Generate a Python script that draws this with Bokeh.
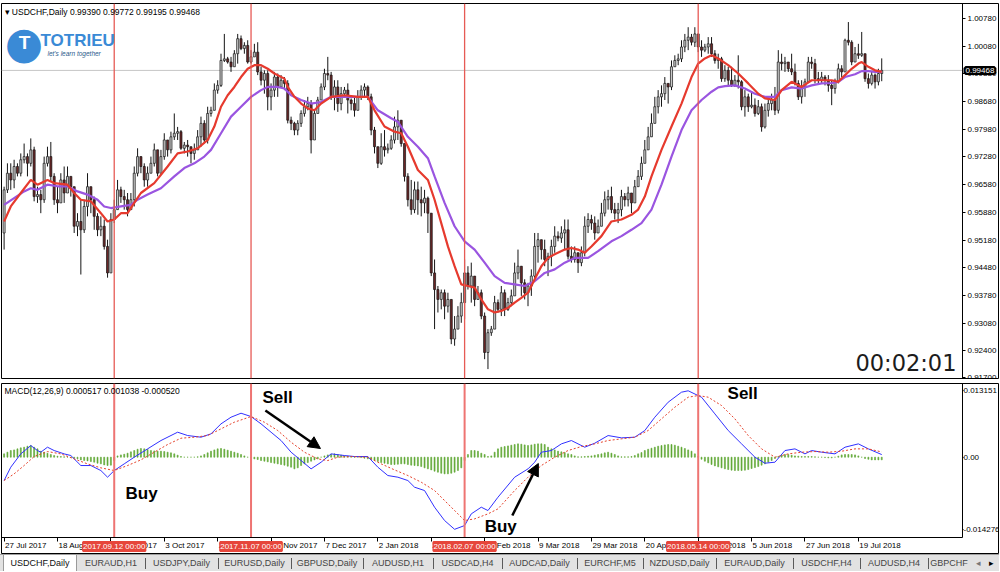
import numpy as np
from bokeh.plotting import figure
from bokeh.models import (ColumnDataSource, FixedTicker, Span, Label, Arrow,
                          NormalHead, Div, Range1d, LinearAxis)
from bokeh.layouts import column
from bokeh.embed import file_html
from bokeh.resources import INLINE

# ---------------- data (USDCHF daily, bar index 0 = 27 Jul 2017) ----------------
first_open = 0.9536
close = [
0.9645, 0.9687, 0.9670, 0.9704, 0.9687, 0.9721, 0.9729, 0.9712, 0.9746, 0.9628,
0.9633, 0.9620, 0.9712, 0.9729, 0.9679, 0.9620, 0.9612, 0.9670, 0.9637, 0.9679,
0.9653, 0.9553, 0.9565, 0.9544, 0.9603, 0.9653, 0.9620, 0.9578, 0.9544, 0.9553,
0.9502, 0.9435, 0.9570, 0.9595, 0.9645, 0.9628, 0.9620, 0.9595, 0.9620, 0.9687,
0.9729, 0.9704, 0.9670, 0.9687, 0.9712, 0.9746, 0.9687, 0.9729, 0.9771, 0.9746,
0.9779, 0.9788, 0.9792, 0.9750, 0.9758, 0.9754, 0.9737, 0.9746, 0.9779, 0.9813,
0.9771, 0.9838, 0.9846, 0.9897, 0.9909, 0.9972, 0.9976, 0.9968, 0.9956, 0.9989,
1.0027, 1.0002, 1.0010, 0.9968, 0.9981, 0.9993, 0.9943, 0.9922, 0.9939, 0.9880,
0.9897, 0.9930, 0.9905, 0.9922, 0.9914, 0.9821, 0.9813, 0.9796, 0.9813, 0.9838,
0.9855, 0.9863, 0.9771, 0.9838, 0.9872, 0.9905, 0.9939, 0.9935, 0.9880, 0.9905,
0.9863, 0.9888, 0.9897, 0.9872, 0.9863, 0.9846, 0.9880, 0.9897, 0.9905, 0.9880,
0.9796, 0.9754, 0.9712, 0.9754, 0.9746, 0.9750, 0.9771, 0.9804, 0.9821, 0.9762,
0.9679, 0.9620, 0.9595, 0.9645, 0.9620, 0.9612, 0.9624, 0.9586, 0.9435, 0.9393,
0.9368, 0.9385, 0.9351, 0.9368, 0.9268, 0.9293, 0.9326, 0.9360, 0.9435, 0.9402,
0.9427, 0.9368, 0.9385, 0.9326, 0.9234, 0.9284, 0.9293, 0.9360, 0.9343, 0.9385,
0.9343, 0.9360, 0.9377, 0.9435, 0.9452, 0.9410, 0.9385, 0.9402, 0.9427, 0.9502,
0.9519, 0.9494, 0.9469, 0.9477, 0.9502, 0.9528, 0.9523, 0.9536, 0.9544, 0.9477,
0.9469, 0.9486, 0.9461, 0.9486, 0.9553, 0.9570, 0.9561, 0.9536, 0.9553, 0.9586,
0.9620, 0.9628, 0.9595, 0.9586, 0.9595, 0.9628, 0.9620, 0.9637, 0.9612, 0.9653,
0.9679, 0.9712, 0.9746, 0.9779, 0.9813, 0.9855, 0.9880, 0.9888, 0.9914, 0.9905,
0.9956, 0.9972, 0.9976, 1.0006, 1.0023, 1.0031, 1.0018, 1.0039, 1.0006, 0.9998,
1.0006, 1.0014, 0.9989, 0.9972, 0.9976, 0.9926, 0.9947, 0.9922, 0.9909, 0.9922,
0.9918, 0.9855, 0.9880, 0.9855, 0.9859, 0.9838, 0.9855, 0.9804, 0.9846, 0.9863,
0.9872, 0.9846, 0.9968, 0.9964, 0.9968, 0.9951, 0.9943, 0.9914, 0.9880, 0.9905,
0.9918, 0.9968, 0.9964, 0.9926, 0.9922, 0.9930, 0.9922, 0.9909, 0.9901, 0.9918,
0.9951, 0.9943, 1.0023, 1.0018, 0.9968, 0.9989, 0.9985, 0.9989, 0.9926, 0.9914,
0.9935, 0.9918, 0.9939, 0.99468,
]
high = [
0.9653, 0.9712, 0.9712, 0.9721, 0.9712, 0.9737, 0.9762, 0.9737, 0.9775, 0.9754,
0.9653, 0.9645, 0.9729, 0.9754, 0.9766, 0.9687, 0.9653, 0.9687, 0.9704, 0.9704,
0.9679, 0.9653, 0.9586, 0.9620, 0.9620, 0.9687, 0.9637, 0.9628, 0.9586, 0.9578,
0.9570, 0.9519, 0.9586, 0.9620, 0.9670, 0.9653, 0.9645, 0.9637, 0.9637, 0.9704,
0.9750, 0.9721, 0.9712, 0.9704, 0.9729, 0.9762, 0.9712, 0.9746, 0.9788, 0.9762,
0.9792, 0.9838, 0.9804, 0.9796, 0.9766, 0.9771, 0.9754, 0.9762, 0.9796, 0.9830,
0.9821, 0.9855, 0.9855, 0.9914, 0.9922, 0.9989, 1.0039, 0.9981, 0.9981, 0.9998,
1.0039, 1.0035, 1.0018, 1.0023, 0.9998, 1.0014, 1.0018, 0.9956, 0.9947, 0.9947,
0.9914, 0.9943, 0.9939, 0.9935, 0.9930, 0.9922, 0.9830, 0.9817, 0.9821, 0.9846,
0.9872, 0.9880, 0.9872, 0.9846, 0.9880, 0.9914, 0.9951, 0.9981, 0.9943, 0.9922,
0.9922, 0.9905, 0.9905, 0.9914, 0.9876, 0.9880, 0.9897, 0.9909, 0.9914, 0.9909,
0.9888, 0.9804, 0.9754, 0.9788, 0.9796, 0.9762, 0.9783, 0.9830, 0.9846, 0.9821,
0.9762, 0.9687, 0.9670, 0.9666, 0.9666, 0.9653, 0.9645, 0.9628, 0.9586, 0.9469,
0.9402, 0.9393, 0.9393, 0.9385, 0.9343, 0.9326, 0.9351, 0.9385, 0.9469, 0.9452,
0.9461, 0.9402, 0.9402, 0.9393, 0.9335, 0.9293, 0.9301, 0.9377, 0.9368, 0.9402,
0.9393, 0.9372, 0.9393, 0.9461, 0.9494, 0.9452, 0.9419, 0.9410, 0.9444, 0.9536,
0.9536, 0.9519, 0.9519, 0.9486, 0.9519, 0.9553, 0.9540, 0.9553, 0.9570, 0.9570,
0.9502, 0.9502, 0.9481, 0.9502, 0.9578, 0.9586, 0.9582, 0.9578, 0.9570, 0.9612,
0.9641, 0.9645, 0.9653, 0.9612, 0.9612, 0.9645, 0.9637, 0.9653, 0.9637, 0.9670,
0.9695, 0.9729, 0.9771, 0.9804, 0.9838, 0.9880, 0.9897, 0.9909, 0.9930, 0.9914,
0.9972, 0.9985, 0.9989, 1.0023, 1.0039, 1.0056, 1.0039, 1.0056, 1.0039, 1.0023,
1.0014, 1.0031, 1.0031, 0.9998, 0.9989, 0.9981, 0.9960, 0.9956, 0.9956, 0.9935,
0.9985, 0.9922, 0.9897, 0.9888, 0.9893, 0.9876, 0.9872, 0.9863, 0.9863, 0.9880,
0.9888, 0.9905, 0.9998, 0.9989, 0.9981, 0.9964, 0.9989, 0.9964, 0.9922, 0.9922,
0.9926, 0.9981, 0.9981, 0.9976, 0.9943, 0.9943, 0.9935, 0.9935, 0.9922, 0.9926,
0.9964, 0.9960, 1.0027, 1.0069, 1.0023, 1.0006, 1.0014, 1.0044, 0.9989, 0.9939,
0.9943, 0.9939, 0.9951, 0.99772,
]
low = [
0.9494, 0.9637, 0.9645, 0.9649, 0.9679, 0.9679, 0.9712, 0.9679, 0.9704, 0.9616,
0.9612, 0.9586, 0.9612, 0.9704, 0.9666, 0.9607, 0.9586, 0.9612, 0.9612, 0.9653,
0.9628, 0.9536, 0.9528, 0.9431, 0.9536, 0.9578, 0.9586, 0.9544, 0.9528, 0.9528,
0.9494, 0.9423, 0.9452, 0.9561, 0.9595, 0.9612, 0.9595, 0.9578, 0.9603, 0.9603,
0.9679, 0.9687, 0.9653, 0.9653, 0.9687, 0.9704, 0.9679, 0.9687, 0.9721, 0.9729,
0.9737, 0.9771, 0.9771, 0.9746, 0.9737, 0.9729, 0.9712, 0.9721, 0.9746, 0.9754,
0.9762, 0.9762, 0.9830, 0.9846, 0.9888, 0.9905, 0.9968, 0.9964, 0.9943, 0.9956,
0.9964, 0.9998, 0.9989, 0.9964, 0.9964, 0.9985, 0.9935, 0.9909, 0.9888, 0.9846,
0.9846, 0.9880, 0.9880, 0.9905, 0.9897, 0.9813, 0.9796, 0.9783, 0.9783, 0.9804,
0.9830, 0.9846, 0.9737, 0.9813, 0.9838, 0.9880, 0.9897, 0.9922, 0.9872, 0.9846,
0.9842, 0.9846, 0.9880, 0.9838, 0.9846, 0.9830, 0.9846, 0.9872, 0.9880, 0.9872,
0.9783, 0.9737, 0.9700, 0.9708, 0.9729, 0.9737, 0.9746, 0.9762, 0.9771, 0.9754,
0.9666, 0.9603, 0.9582, 0.9586, 0.9582, 0.9578, 0.9586, 0.9536, 0.9427, 0.9293,
0.9335, 0.9343, 0.9318, 0.9335, 0.9255, 0.9251, 0.9293, 0.9309, 0.9318, 0.9393,
0.9360, 0.9351, 0.9368, 0.9318, 0.9217, 0.9192, 0.9276, 0.9293, 0.9335, 0.9326,
0.9326, 0.9339, 0.9351, 0.9385, 0.9419, 0.9377, 0.9368, 0.9351, 0.9377, 0.9419,
0.9461, 0.9469, 0.9452, 0.9427, 0.9452, 0.9486, 0.9515, 0.9511, 0.9494, 0.9469,
0.9461, 0.9461, 0.9435, 0.9452, 0.9477, 0.9536, 0.9544, 0.9519, 0.9536, 0.9553,
0.9578, 0.9595, 0.9586, 0.9570, 0.9561, 0.9578, 0.9603, 0.9603, 0.9586, 0.9612,
0.9653, 0.9670, 0.9712, 0.9746, 0.9788, 0.9813, 0.9838, 0.9855, 0.9872, 0.9863,
0.9897, 0.9956, 0.9960, 0.9968, 0.9993, 0.9998, 1.0010, 1.0006, 0.9993, 0.9981,
0.9993, 0.9989, 0.9981, 0.9964, 0.9951, 0.9918, 0.9918, 0.9909, 0.9905, 0.9905,
0.9901, 0.9846, 0.9830, 0.9842, 0.9851, 0.9830, 0.9834, 0.9792, 0.9800, 0.9830,
0.9846, 0.9834, 0.9838, 0.9947, 0.9943, 0.9943, 0.9935, 0.9909, 0.9872, 0.9863,
0.9880, 0.9918, 0.9951, 0.9914, 0.9914, 0.9914, 0.9909, 0.9893, 0.9859, 0.9888,
0.9914, 0.9930, 0.9951, 1.0010, 0.9960, 0.9968, 0.9976, 0.9981, 0.9918, 0.9901,
0.9909, 0.9901, 0.9909, 0.99195,
]

# moving averages (bar index, price)
fast_ma_x = [0, 2, 5, 8, 10, 13, 15, 19, 21, 23, 26, 29, 31, 33, 35, 37, 39, 41, 45, 49,
             52, 55, 58, 61, 63, 65, 67, 69, 71, 73, 75, 77, 79, 81, 84, 85, 87, 89, 91, 93,
             95, 98, 102, 106, 109, 111, 114, 117, 119, 121, 124, 127, 129, 131, 133, 135,
             137, 139, 141, 143, 145, 147, 149, 151, 153, 155, 157, 159, 161, 163, 165, 168,
             170, 172, 174, 176, 179, 182, 185, 188, 190, 192, 194, 197, 200, 203, 206, 208,
             210, 212, 214, 217, 220, 223, 226, 228, 231, 233, 236, 239, 242, 245, 248, 250,
             252, 254, 256, 257, 259, 261, 263]
fast_ma_y = [0.9565, 0.9603, 0.9637, 0.9670, 0.9658, 0.9670, 0.9662, 0.9658, 0.9637, 0.9620,
             0.9616, 0.9586, 0.9565, 0.9570, 0.9586, 0.9586, 0.9612, 0.9637, 0.9662, 0.9704,
             0.9737, 0.9742, 0.9750, 0.9771, 0.9805, 0.9855, 0.9884, 0.9905, 0.9930, 0.9951,
             0.9960, 0.9960, 0.9951, 0.9939, 0.9926, 0.9905, 0.9880, 0.9863, 0.9851, 0.9846,
             0.9863, 0.9880, 0.9884, 0.9880, 0.9880, 0.9846, 0.9805, 0.9792, 0.9788, 0.9754,
             0.9695, 0.9670, 0.9620, 0.9561, 0.9502, 0.9452, 0.9406, 0.9402, 0.9398, 0.9368,
             0.9343, 0.9335, 0.9339, 0.9347, 0.9360, 0.9372, 0.9385, 0.9419, 0.9452, 0.9473,
             0.9482, 0.9494, 0.9498, 0.9494, 0.9486, 0.9502, 0.9528, 0.9565, 0.9570, 0.9582,
             0.9595, 0.9628, 0.9679, 0.9746, 0.9805, 0.9863, 0.9930, 0.9964, 0.9977, 0.9985,
             0.9977, 0.9960, 0.9939, 0.9914, 0.9888, 0.9876, 0.9872, 0.9897, 0.9918, 0.9905,
             0.9922, 0.9922, 0.9922, 0.9918, 0.9935, 0.9951, 0.9964, 0.9968, 0.9956, 0.9947,
             0.9943]
slow_ma_x = [0, 3, 6, 8, 10, 13, 16, 19, 22, 25, 28, 30, 32, 35, 38, 40, 43, 47, 51, 54,
             57, 60, 62, 65, 68, 71, 74, 77, 79, 82, 84, 86, 89, 92, 95, 98, 102, 106, 109,
             112, 116, 118, 121, 124, 127, 129, 132, 135, 138, 141, 144, 147, 150, 153, 156,
             159, 162, 165, 168, 171, 175, 178, 182, 185, 188, 191, 194, 197, 200, 203, 206,
             209, 212, 214, 216, 219, 222, 225, 228, 231, 233, 236, 239, 242, 245, 248, 250,
             252, 255, 257, 259, 261, 263]
slow_ma_y = [0.9607, 0.9624, 0.9641, 0.9649, 0.9645, 0.9658, 0.9654, 0.9654, 0.9641, 0.9633,
             0.9620, 0.9603, 0.9599, 0.9603, 0.9607, 0.9620, 0.9633, 0.9649, 0.9679, 0.9700,
             0.9712, 0.9729, 0.9746, 0.9788, 0.9830, 0.9855, 0.9880, 0.9897, 0.9905, 0.9905,
             0.9901, 0.9884, 0.9872, 0.9863, 0.9867, 0.9880, 0.9880, 0.9880, 0.9880, 0.9846,
             0.9826, 0.9817, 0.9779, 0.9754, 0.9725, 0.9679, 0.9612, 0.9553, 0.9515, 0.9494,
             0.9461, 0.9427, 0.9410, 0.9406, 0.9402, 0.9414, 0.9435, 0.9444, 0.9461, 0.9473,
             0.9473, 0.9490, 0.9515, 0.9528, 0.9544, 0.9561, 0.9595, 0.9658, 0.9729, 0.9796,
             0.9846, 0.9872, 0.9893, 0.9904, 0.9907, 0.9909, 0.9901, 0.9888, 0.9880, 0.9880,
             0.9897, 0.9904, 0.9901, 0.9909, 0.9914, 0.9915, 0.9918, 0.9930, 0.9937, 0.9945,
             0.9945, 0.9943, 0.9943]

# MACD(12,26,9) read from the sub-window, in units of 1e-4
macd_x = [0, 2, 5, 8, 10, 11, 13, 15, 18, 20, 23, 26, 29, 31, 33, 36, 39, 43, 47, 52,
          55, 59, 62, 65, 68, 71, 74, 77, 80, 83, 86, 89, 92, 95, 98, 102, 105, 109, 112,
          115, 118, 121, 123, 126, 129, 132, 135, 138, 140, 143, 145, 148, 153, 157, 159,
          161, 164, 167, 170, 174, 177, 181, 185, 189, 192, 195, 199, 203, 205, 209, 213,
          217, 221, 225, 228, 231, 234, 237, 240, 242, 245, 249, 252, 256, 259, 263]
macd_e4 = [-46.2, -19.8, 6.6, 23.1, 13.2, 9.9, 19.8, 13.2, 6.6, 3.3, -16.5, -16.5, -26.4,
           -39.6, -26.4, -13.2, 0.0, 16.5, 33.0, 49.5, 42.9, 39.6, 46.2, 66.0, 79.2, 87.1,
           80.5, 66.0, 49.5, 33.0, 9.9, -6.6, -23.1, -9.9, 6.6, 3.3, 1.3, 1.3, -19.8, -36.3,
           -39.6, -46.2, -59.4, -66.0, -99.0, -125.4, -142.8, -135.3, -112.2, -99.0, -105.6,
           -79.2, -39.6, -23.1, -9.9, 9.9, 13.2, 26.4, 33.0, 19.8, 27.7, 42.9, 38.3, 39.6,
           52.8, 79.2, 108.9, 128.7, 131.5, 118.8, 85.8, 52.8, 26.4, 0.0, -11.9, -9.9, 13.2,
           16.5, 6.6, 13.2, 9.9, 6.6, 19.8, 26.4, 16.5, 5.2]
signal_x = [0, 3, 6, 9, 13, 17, 21, 25, 29, 33, 37, 41, 45, 49, 53, 57, 61, 65, 69, 74,
            78, 82, 86, 90, 94, 97, 100, 104, 109, 113, 117, 121, 125, 129, 133, 138, 141,
            145, 148, 153, 157, 161, 165, 169, 173, 177, 181, 185, 189, 193, 197, 201, 205,
            208, 211, 215, 219, 223, 227, 231, 235, 239, 243, 247, 251, 255, 259, 263]
signal_e4 = [-46.2, -33.0, -16.5, 1.3, 11.2, 6.6, -3.3, -13.2, -21.1, -26.4, -16.5, -5.3,
             9.9, 25.1, 37.6, 39.6, 42.9, 56.1, 69.3, 80.5, 69.3, 52.8, 29.7, 9.9, -3.3,
             -6.6, 0.0, 1.3, 0.0, -13.2, -25.1, -36.3, -49.5, -66.0, -92.4, -125.4, -122.1,
             -112.2, -102.3, -66.0, -39.6, -16.5, 0.0, 13.2, 21.1, 26.4, 33.0, 36.3, 39.6,
             52.8, 75.9, 99.0, 118.8, 122.1, 118.8, 102.3, 75.9, 42.9, 16.5, 0.0, 6.6, 9.9,
             11.2, 9.9, 11.9, 16.5, 16.5, 10.4]
osma_e4 = [
6.6, 9.9, 13.2, 14.5, 16.5, 18.5, 19.8, 21.8, 23.1, 19.8,
16.5, 11.9, 9.9, 7.9, 5.3, 3.3, 2.0, 1.3, 0.7, 0.0,
-0.7, -2.0, -3.3, -5.3, -6.6, -7.3, -8.6, -9.9, -11.9, -13.2,
-15.2, -16.5, -15.8, -6.6, 2.6, 4.6, 5.9, 7.9, 10.6, 13.2,
15.8, 17.2, 16.5, 15.2, 13.2, 12.5, 11.9, 11.9, 11.2, 9.9,
8.6, 6.6, 4.0, 1.3, 0.0, 0.0, 0.0, 0.0, 0.7, 2.6,
5.3, 8.6, 11.9, 14.5, 16.5, 17.2, 15.8, 13.9, 11.9, 9.9,
7.9, 5.3, 2.6, 0.0, -1.3, -3.3, -4.6, -6.6, -7.9, -9.2,
-10.6, -11.9, -13.2, -14.5, -15.8, -17.8, -19.8, -23.1, -21.1, -16.5,
-13.2, -10.6, -7.9, -5.3, -3.3, 0.0, 2.6, 4.6, 5.9, 6.6,
5.3, 4.0, 2.6, 2.0, 1.3, 0.7, 0.0, -0.7, -2.0, -3.3,
-4.6, -6.6, -8.6, -10.6, -11.9, -13.2, -14.5, -14.5, -13.9, -13.2,
-13.2, -14.5, -15.8, -16.5, -17.2, -18.5, -21.1, -23.1, -25.1, -27.7,
-29.7, -31.7, -33.0, -33.0, -31.7, -29.7, -26.4, -21.1, -6.6, 5.3,
13.2, 13.2, 11.9, 7.9, 5.3, 1.3, 2.6, 9.9, 16.5, 19.8,
21.1, 22.4, 23.8, 25.1, 26.4, 25.7, 24.4, 23.1, 24.4, 25.7,
26.4, 26.4, 25.1, 19.8, 16.5, 14.5, 11.9, 10.6, 9.2, 6.6,
5.3, 2.6, 0.7, 0.7, 1.3, 2.0, 2.6, 4.0, 5.3, 6.6,
8.6, 9.9, 7.9, 5.3, 2.6, 0.7, 0.7, 0.7, 1.3, 3.3,
6.6, 9.2, 13.2, 15.8, 17.8, 19.8, 21.8, 23.1, 24.4, 25.1,
25.1, 23.8, 21.8, 19.8, 17.2, 14.5, 11.9, 6.6, 1.3, -4.0,
-7.9, -11.2, -14.5, -17.2, -19.1, -21.1, -23.1, -24.4, -25.7, -26.4,
-26.4, -26.4, -25.7, -24.4, -22.4, -20.5, -18.5, -15.8, -13.2, -9.9,
-6.6, -2.6, 1.3, 4.0, 5.3, 5.3, 4.0, 2.6, 2.0, 1.3,
1.3, 1.3, 1.3, 0.7, 0.0, 0.0, -0.7, -1.3, -1.3, 0.0,
2.0, 4.6, 5.3, 5.3, 5.3, 4.6, 2.6, 0.0, -2.6, -4.0,
-5.3, -5.3, -5.3, -5.2,
]

# axis ticks and labels
price_ticks = [1.00780, 1.00080, 0.99380, 0.98680, 0.97980, 0.97280, 0.96580, 0.95880,
               0.95180, 0.94480, 0.93780, 0.93080, 0.92400, 0.91700]
price_tick_labels = ["1.00780", "1.00080", "0.99380", "0.98680", "0.97980", "0.97280",
                     "0.96580", "0.95880", "0.95180", "0.94480", "0.93780", "0.93080",
                     "0.92400", "0.91700"]
macd_ticks = [0.013151, 0.0, -0.014276]
macd_tick_labels = ["0.013151", "0.00", "-0.014276"]
date_tick_bars = [0, 16, 32, 48, 64, 80, 96, 112, 128, 144, 160, 176, 192, 208, 224, 240, 256]
date_tick_labels = ["27 Jul 2017", "18 Aug 2017", "11 Sep 2017", "3 Oct 2017", "25 Oct 2017",
                    "16 Nov 2017", "7 Dec 2017", "2 Jan 2018", "24 Jan 2018", "15 Feb 2018",
                    "9 Mar 2018", "29 Mar 2018", "20 Apr 2018", "14 May 2018", "5 Jun 2018",
                    "27 Jun 2018", "19 Jul 2018"]
event_bars = [33, 74, 138, 208]
event_labels = ["2017.09.12 00:00", "2017.11.07 00:00", "2018.02.07 00:00", "2018.05.14 00:00"]
last_price = 0.99468
tab_names = ["USDCHF,Daily", "EURAUD,H1", "USDJPY,Daily", "EURUSD,Daily", "GBPUSD,Daily",
             "AUDUSD,H1", "USDCAD,H4", "AUDCAD,Daily", "EURCHF,M5", "NZDUSD,Daily",
             "EURAUD,Daily", "USDCHF,H4", "AUDUSD,H4", "GBPCHF"]

# ---------------- geometry (pixels of the MT4 window) ----------------
FONT = "Liberation Sans"
CANVAS_W = 999
FRAME_W = CANVAS_W - 1          # frame covers the whole canvas; scales drawn at fixed locations
PX_PER_BAR = 3.337
XMIN = -2.6 / PX_PER_BAR
PANEL_END = XMIN + 961 / PX_PER_BAR   # where the price scale sits
XMAX = XMIN + FRAME_W / PX_PER_BAR
MAIN_H = 375
PX_PER_PRICE = 3957.0
P_HI = 1.00780 + 15 / PX_PER_PRICE
P_LO = P_HI - MAIN_H / PX_PER_PRICE
MACD_FRAME_H = 171
MACD_PANEL_PX = 153.5
MACD_PER_PX = 0.000198
M_HI = 0.014593
M_LO = M_HI - MACD_PANEL_PX * MACD_PER_PX
M_FRAME_LO = M_LO - (MACD_FRAME_H - MACD_PANEL_PX) * MACD_PER_PX

# ---------------- build ----------------
n = len(close)
assert len(high) == n and len(low) == n and len(osma_e4) == n
idx = np.arange(n)
c = np.array(close)
o = np.array([first_open] + close[:-1])
h = np.maximum(np.array(high), np.maximum(o, c))
l = np.minimum(np.array(low), np.minimum(o, c))
src = ColumnDataSource(dict(
    x=idx, high=h, low=l,
    top=np.maximum(o, c), bottom=np.minimum(o, c),
    fill=np.where(c >= o, "#c8c8c8", "#6b2626"),
))

xr = Range1d(XMIN, XMAX)


def style_axis(ax, tick_out=3, standoff=2, size="8px"):
    ax.major_tick_in = 0
    ax.major_tick_out = tick_out
    ax.minor_tick_line_color = None
    ax.axis_line_color = "black"
    ax.major_tick_line_color = "black"
    ax.major_label_standoff = standoff
    ax.major_label_text_font = FONT
    ax.major_label_text_font_size = size
    ax.major_label_text_color = "black"


# ---- main price panel ----
main = figure(x_range=xr, y_range=Range1d(P_LO, P_HI),
              frame_width=FRAME_W, frame_height=MAIN_H,
              min_border_left=1, min_border_right=0, min_border_top=3, min_border_bottom=5,
              x_axis_location=None, y_axis_location=None,
              toolbar_location=None, output_backend="svg")
main.grid.visible = False
main.outline_line_color = "black"
main.background_fill_color = "white"
main.border_fill_color = "white"

pax = LinearAxis(fixed_location=PANEL_END, ticker=FixedTicker(ticks=price_ticks),
                 major_label_overrides={t: s for t, s in zip(price_ticks, price_tick_labels)},
                 bounds=(P_LO, P_HI))
style_axis(pax)
main.add_layout(pax, "right")

main.line([XMIN, PANEL_END], [last_price, last_price], line_color="#c6c6c6", line_width=1)
main.segment(x0="x", y0="low", x1="x", y1="high", source=src, line_color="#151515", line_width=1)
main.vbar(x="x", width=0.62, top="top", bottom="bottom", fill_color="fill",
          line_color="#151515", line_width=0.7, source=src)
main.line(slow_ma_x, slow_ma_y, line_color="#9a55e0", line_width=2.2)
main.line(fast_ma_x, fast_ma_y, line_color="#e63a2e", line_width=2.2)
for b in event_bars:
    main.add_layout(Span(location=b, dimension="height", line_color="#e65a55", line_width=1.3))

main.add_layout(Label(x=3, y=MAIN_H - 3, x_units="screen", y_units="screen",
                      text="\u25be USDCHF,Daily  0.99390 0.99772 0.99195 0.99468",
                      text_font=FONT, text_font_size="8.5px", text_color="black",
                      text_baseline="top", text_align="left"))
# watermark logo
main.add_layout(Label(x=22.5, y=MAIN_H - 39, x_units="screen", y_units="screen", text="\u25cf",
                      text_font="DejaVu Sans", text_font_size="44px", text_color="#3a8ad6",
                      text_baseline="middle", text_align="center"))
main.add_layout(Label(x=23, y=MAIN_H - 39, x_units="screen", y_units="screen", text="T",
                      text_font=FONT, text_font_style="bold", text_font_size="19px",
                      text_color="white", text_baseline="middle", text_align="center"))
main.add_layout(Label(x=39, y=MAIN_H - 27, x_units="screen", y_units="screen", text="TOTRIEU",
                      text_font=FONT, text_font_style="bold", text_font_size="17px",
                      text_color="#3a8ad6", text_baseline="top", text_align="left"))
main.add_layout(Label(x=46, y=MAIN_H - 46, x_units="screen", y_units="screen",
                      text="let's learn together", text_font=FONT, text_font_style="italic",
                      text_font_size="6.5px", text_color="#2b5c8c",
                      text_baseline="top", text_align="left"))
main.add_layout(Label(x=955, y=3, x_units="screen", y_units="screen", text="00:02:01",
                      text_font="DejaVu Sans", text_font_size="22.5px", text_color="#1c1c1c",
                      text_baseline="bottom", text_align="right"))
main.add_layout(Label(x=PANEL_END, x_offset=3, y=last_price, text="0.99468",
                      text_font=FONT, text_font_size="8px",
                      text_color="white", background_fill_color="black",
                      border_line_color="black", border_line_width=4,
                      text_baseline="middle", text_align="left"))

# ---- MACD panel (with the date strip inside its frame) ----
macd = figure(x_range=xr, y_range=Range1d(M_FRAME_LO, M_HI),
              frame_width=FRAME_W, frame_height=MACD_FRAME_H,
              min_border_left=1, min_border_right=0, min_border_top=0, min_border_bottom=0,
              x_axis_location=None, y_axis_location=None,
              toolbar_location=None, output_backend="svg")
macd.grid.visible = False
macd.outline_line_color = "black"
macd.background_fill_color = "white"
macd.border_fill_color = "white"

may = LinearAxis(fixed_location=PANEL_END, ticker=FixedTicker(ticks=macd_ticks),
                 major_label_overrides={t: s for t, s in zip(macd_ticks, macd_tick_labels)},
                 bounds=(M_LO, M_HI))
style_axis(may, tick_out=1, standoff=0)
macd.add_layout(may, "right")

# date axis: tick marks at the bars, labels set to the right of each tick (MT4 style)
xa_ticks = LinearAxis(fixed_location=M_LO, ticker=FixedTicker(ticks=date_tick_bars),
                      bounds=(XMIN, PANEL_END))
style_axis(xa_ticks, tick_out=4)
xa_ticks.major_label_text_alpha = 0
macd.add_layout(xa_ticks, "below")

ARIAL = {" ": 278, "J": 500, "l": 222, "c": 500, "t": 278, "v": 500, "r": 333, "y": 500,
         "A": 667, "S": 667, "O": 778, "N": 722, "D": 722, "F": 611, "M": 833}
def text_px(s, size=8):
    return sum(ARIAL.get(ch, 556) for ch in s) * size / 1000.0
label_pos = [b + (text_px(s) / 2 + 1) / PX_PER_BAR for b, s in zip(date_tick_bars, date_tick_labels)]
xa_labels = LinearAxis(fixed_location=M_LO, ticker=FixedTicker(ticks=label_pos),
                       major_label_overrides={p: s for p, s in zip(label_pos, date_tick_labels)},
                       bounds=(XMIN, PANEL_END))
style_axis(xa_labels, tick_out=0, standoff=4)
xa_labels.major_tick_line_color = None
xa_labels.axis_line_color = None
macd.add_layout(xa_labels, "below")

macd.vbar(x=idx, top=np.array(osma_e4) * 1e-4, bottom=0, width=0.3,
          fill_color="#5fa734", line_color="#5fa734", line_width=0.6)
macd.line(macd_x, np.array(macd_e4) * 1e-4, line_color="#3030ff", line_width=1)
macd.line(signal_x, np.array(signal_e4) * 1e-4, line_color="#e5412b", line_width=1,
          line_dash="2 2")
macd.segment(x0=event_bars, y0=[M_LO] * len(event_bars), x1=event_bars,
             y1=[M_HI] * len(event_bars), line_color="#ee7472", line_width=2)
label_y = M_LO - 9.5 * MACD_PER_PX
for b, s in zip(event_bars, event_labels):
    macd.add_layout(Label(x=b, y=label_y, text=s,
                          text_font=FONT, text_font_size="8px", text_color="white",
                          background_fill_color="#e6463b",
                          border_line_color="#e6463b", border_line_width=2,
                          text_align="center", text_baseline="middle"))

macd.add_layout(Label(x=3, y=MACD_FRAME_H - 2, x_units="screen", y_units="screen",
                      text="MACD(12,26,9) 0.000517 0.001038 -0.000520",
                      text_font=FONT, text_font_size="8.5px", text_color="black",
                      text_baseline="top", text_align="left"))
for txt, bx, vy in [("Sell", 77.4, 0.0137), ("Buy", 36.4, -0.0054),
                    ("Buy", 144.0, -0.0119), ("Sell", 216.8, 0.0145)]:
    macd.add_layout(Label(x=bx, y=vy, text=txt, text_font=FONT, text_font_style="bold",
                          text_font_size="17px", text_color="black",
                          text_baseline="top", text_align="left"))
macd.add_layout(Arrow(end=NormalHead(size=12, fill_color="black", line_color="black"),
                      x_start=78.3, y_start=0.00925, x_end=94.8, y_end=0.00172,
                      line_color="black", line_width=2.5))
macd.add_layout(Arrow(end=NormalHead(size=12, fill_color="black", line_color="black"),
                      x_start=152.3, y_start=-0.01154, x_end=160.1, y_end=-0.00125,
                      line_color="black", line_width=2.5))

# ---- terminal tab strip ----
tab_widths = [77, 68, 73, 73, 72, 70, 69, 75, 66, 73, 77, 67, 68, 42]
parts = []
for i, (name, w) in enumerate(zip(tab_names, tab_widths)):
    if i == 0:
        st = ("background:#ffffff;color:#111;margin-left:3px;border-left:1px solid #9a9a9a;"
              "border-right:1px solid #9a9a9a;")
        w = w - 3
        sep = ""
    else:
        st = "color:#454545;"
        sep = ('<div style="position:absolute;left:0;top:3px;width:1px;height:11px;'
               'background:#5a5a5a;"></div>') if i > 1 else ""
    parts.append(f'<div style="position:relative;box-sizing:border-box;width:{w}px;{st}'
                 f'text-align:center;overflow:hidden;white-space:nowrap;">{sep}{name}</div>')
parts.append('<div style="flex:1;color:#777;text-align:right;padding-right:5px;'
             'white-space:nowrap;">\u25c2&nbsp;&nbsp;&nbsp;<span style="color:#000">\u25b8</span></div>')
tabs_html = ('<div style="display:flex;width:999px;height:17px;line-height:16px;'
             'background:#e2e2e2;border-top:1px solid #a0a0a0;box-sizing:border-box;'
             f'font-family:\'{FONT}\';font-size:9px;">' + "".join(parts) + "</div>")
tabs = Div(text=tabs_html, width=999, height=17, margin=0)

layout = column(main, macd, tabs, spacing=0)
open("out.html", "w").write(file_html(layout, INLINE))
